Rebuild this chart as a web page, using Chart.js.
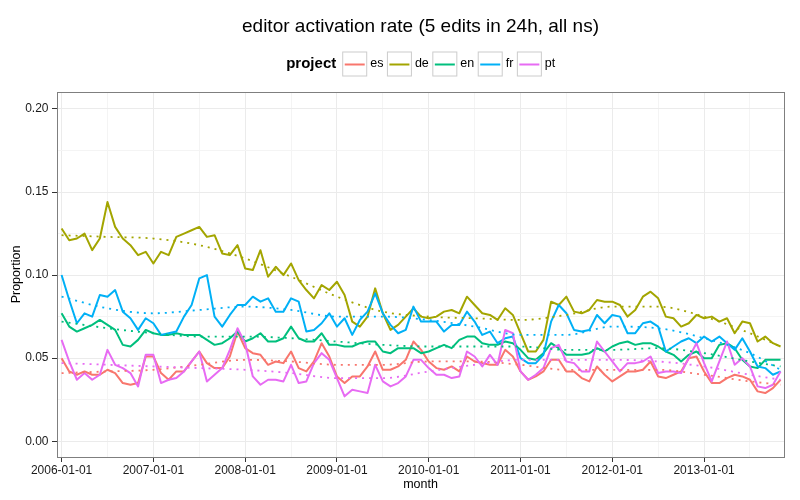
<!DOCTYPE html>
<html>
<head>
<meta charset="utf-8">
<title>editor activation rate</title>
<script src="https://cdn.jsdelivr.net/npm/chart.js@4.4.0/dist/chart.umd.min.js"></script>
<style>
  html, body { margin: 0; padding: 0; background: #fff; }
  #wrap { width: 800px; height: 500px; }
</style>
</head>
<body>
<div id="wrap"><canvas id="chart" width="800" height="500"></canvas></div>
<script>
(function(){
    'use strict';

    // categories
    var projects = ['es', 'de', 'en', 'fr', 'pt'];
    var colors = ['#F8766D', '#A3A500', '#00BF7D', '#00B0F6', '#E76BF3'];

    // x axis: months since 2006-01, ticks every 6 months, labels on the years
    var tickMonths = [0, 6, 12, 18, 24, 30, 36, 42, 48, 54, 60, 66, 72, 78, 84, 90];
    var yearLabels = ['2006-01-01', '2007-01-01', '2008-01-01', '2009-01-01',
                      '2010-01-01', '2011-01-01', '2012-01-01', '2013-01-01'];
    var yTicks = [0, 0.025, 0.05, 0.075, 0.1, 0.125, 0.15, 0.175, 0.2];

    // monthly proportion, 2006-01 .. 2013-11
    var es = [0.050,0.042,0.040,0.042,0.040,0.040,0.043,0.041,0.035,0.034,
              0.035,0.051,0.051,0.041,0.037,0.042,0.042,0.048,0.054,0.047,
              0.044,0.044,0.051,0.066,0.056,0.053,0.052,0.046,0.048,0.047,
              0.054,0.044,0.042,0.048,0.059,0.051,0.039,0.035,0.039,0.039,
              0.045,0.054,0.043,0.043,0.045,0.049,0.060,0.055,0.048,0.044,
              0.043,0.045,0.042,0.051,0.048,0.047,0.046,0.046,0.055,0.051,
              0.042,0.037,0.039,0.042,0.049,0.049,0.042,0.042,0.038,0.036,
              0.045,0.040,0.036,0.039,0.042,0.042,0.043,0.048,0.039,0.038,
              0.040,0.042,0.050,0.051,0.042,0.035,0.035,0.038,0.040,0.039,
              0.037,0.030,0.029,0.032,0.037];
    var de = [0.128,0.121,0.122,0.125,0.115,0.122,0.144,0.129,0.122,0.118,
              0.112,0.114,0.107,0.114,0.112,0.123,0.125,0.127,0.129,0.123,
              0.124,0.113,0.112,0.118,0.104,0.103,0.115,0.099,0.105,0.100,
              0.107,0.097,0.091,0.086,0.094,0.091,0.096,0.088,0.072,0.069,
              0.075,0.092,0.077,0.067,0.070,0.075,0.080,0.075,0.074,0.075,
              0.078,0.079,0.077,0.087,0.082,0.077,0.076,0.073,0.080,0.076,
              0.065,0.054,0.054,0.061,0.084,0.082,0.087,0.078,0.077,0.079,
              0.085,0.084,0.084,0.082,0.075,0.079,0.087,0.090,0.086,0.075,
              0.074,0.069,0.071,0.076,0.074,0.075,0.072,0.074,0.065,0.072,
              0.071,0.060,0.063,0.059,0.057];
    var en = [0.077,0.069,0.066,0.068,0.070,0.073,0.070,0.067,0.058,0.057,
              0.061,0.067,0.065,0.064,0.064,0.065,0.064,0.064,0.064,0.061,
              0.058,0.059,0.062,0.066,0.060,0.062,0.065,0.060,0.060,0.062,
              0.069,0.062,0.060,0.060,0.065,0.058,0.058,0.057,0.057,0.059,
              0.060,0.060,0.054,0.053,0.056,0.056,0.056,0.053,0.054,0.056,
              0.058,0.056,0.061,0.063,0.063,0.059,0.058,0.058,0.060,0.059,
              0.055,0.050,0.049,0.053,0.059,0.056,0.052,0.052,0.052,0.053,
              0.056,0.054,0.057,0.059,0.060,0.058,0.059,0.059,0.057,0.054,
              0.052,0.048,0.052,0.054,0.050,0.050,0.058,0.059,0.056,0.049,
              0.045,0.044,0.049,0.049,0.049];
    var fr = [0.100,0.085,0.071,0.077,0.075,0.088,0.087,0.091,0.078,0.074,
              0.067,0.074,0.071,0.064,0.065,0.066,0.075,0.082,0.098,0.100,
              0.075,0.069,0.076,0.082,0.082,0.087,0.084,0.086,0.078,0.078,
              0.086,0.084,0.066,0.067,0.071,0.077,0.069,0.074,0.064,0.073,
              0.078,0.089,0.077,0.070,0.065,0.067,0.081,0.072,0.072,0.072,
              0.066,0.070,0.070,0.078,0.072,0.064,0.066,0.059,0.062,0.063,
              0.050,0.047,0.047,0.052,0.072,0.082,0.077,0.067,0.066,0.067,
              0.076,0.071,0.076,0.075,0.065,0.065,0.071,0.072,0.069,0.054,
              0.057,0.060,0.062,0.059,0.063,0.060,0.063,0.059,0.055,0.062,
              0.054,0.045,0.044,0.040,0.042];
    var pt = [0.061,0.048,0.037,0.041,0.037,0.040,0.055,0.046,0.044,0.041,
              0.033,0.052,0.052,0.035,0.037,0.038,0.042,0.048,0.054,0.036,
              0.040,0.044,0.055,0.068,0.059,0.039,0.034,0.037,0.037,0.036,
              0.046,0.035,0.036,0.047,0.053,0.049,0.038,0.027,0.031,0.030,
              0.029,0.046,0.036,0.033,0.035,0.039,0.049,0.049,0.044,0.040,
              0.040,0.038,0.039,0.054,0.051,0.045,0.052,0.046,0.067,0.065,
              0.042,0.037,0.040,0.044,0.056,0.058,0.048,0.047,0.042,0.042,
              0.060,0.054,0.048,0.042,0.047,0.047,0.048,0.051,0.041,0.042,
              0.042,0.041,0.050,0.059,0.047,0.036,0.048,0.060,0.046,0.050,
              0.045,0.033,0.032,0.034,0.042];

    // smoothed trend (dotted), read at these months
    var trendMonths = [0, 6, 12, 18, 24, 30, 36, 42, 48, 54, 60, 66, 72, 78, 84, 90, 94];
    var esTrend = [0.041,0.042,0.043,0.046,0.049,0.048,0.046,0.046,0.048,0.048,0.046,0.043,0.043,0.043,0.040,0.036,0.034];
    var deTrend = [0.124,0.123,0.122,0.118,0.110,0.099,0.087,0.078,0.075,0.074,0.073,0.076,0.081,0.081,0.075,0.065,0.057];
    var enTrend = [0.072,0.068,0.065,0.063,0.063,0.062,0.060,0.058,0.057,0.057,0.057,0.055,0.055,0.056,0.053,0.048,0.045];
    var frTrend = [0.087,0.080,0.077,0.079,0.081,0.079,0.075,0.075,0.073,0.069,0.064,0.064,0.069,0.068,0.062,0.053,0.043];
    var ptTrend = [0.047,0.046,0.045,0.044,0.043,0.041,0.038,0.038,0.042,0.046,0.049,0.049,0.049,0.048,0.045,0.040,0.037];

    var series = [es, de, en, fr, pt];
    var trends = [esTrend, deTrend, enTrend, frTrend, ptTrend];

    var FONT = '"Liberation Sans", Arial, Helvetica, sans-serif';
    Chart.defaults.font.family = FONT;

    var datasets = [];
    projects.forEach(function(p, k){
        datasets.push({
            label: p,
            data: series[k].map(function(v, i){ return {x: i, y: v}; }),
            borderColor: colors[k],
            borderWidth: 2,
            borderJoinStyle: 'round',
            pointRadius: 0,
            tension: 0,
            order: 10 - k
        });
        datasets.push({
            label: p + ' trend',
            data: trends[k].map(function(v, j){ return {x: trendMonths[j], y: v}; }),
            borderColor: colors[k],
            borderWidth: 1.8,
            borderDash: [2, 5],
            pointRadius: 0,
            cubicInterpolationMode: 'monotone',
            order: 4 - k
        });
    });

    function isMajorY(v){ return Math.round(v * 1000) % 50 === 0; }

    // title, legend, axis titles and panel border
    var decor = {
        id: 'decor',
        afterDatasetsDraw: function(chart){
            var ctx = chart.ctx, a = chart.chartArea;
            var cx = (a.left + a.right) / 2;
            ctx.save();

            ctx.strokeStyle = '#7f7f7f';
            ctx.lineWidth = 1;
            ctx.strokeRect(a.left + 0.5, a.top + 0.5, a.right - a.left, a.bottom - a.top);

            ctx.fillStyle = '#000';
            ctx.textBaseline = 'middle';
            ctx.textAlign = 'center';
            ctx.font = '19px ' + FONT;
            ctx.fillText('editor activation rate (5 edits in 24h, all ns)', cx, 27);

            // legend
            ctx.font = 'bold 15px ' + FONT;
            var titleW = ctx.measureText('project').width;
            ctx.font = '12.5px ' + FONT;
            var total = titleW + 6;
            projects.forEach(function(p){ total += 28 + ctx.measureText(p).width + 3.5; });
            var x = cx + 2 - total / 2;
            var ly = 64;
            ctx.textAlign = 'left';
            ctx.font = 'bold 15px ' + FONT;
            ctx.fillText('project', x, ly);
            x += titleW + 6;
            ctx.font = '12.5px ' + FONT;
            projects.forEach(function(p, k){
                ctx.fillStyle = '#fff';
                ctx.fillRect(x, ly - 12.5, 25, 25);
                ctx.strokeStyle = '#cccccc';
                ctx.lineWidth = 1;
                ctx.strokeRect(x + 0.5, ly - 12, 24, 24);
                ctx.strokeStyle = colors[k];
                ctx.lineWidth = 2;
                ctx.beginPath();
                ctx.moveTo(x + 2.5, ly + 0.5);
                ctx.lineTo(x + 22.5, ly + 0.5);
                ctx.stroke();
                ctx.fillStyle = '#000';
                ctx.fillText(p, x + 28, ly);
                x += 28 + ctx.measureText(p).width + 3.5;
            });

            // axis titles
            ctx.textAlign = 'center';
            ctx.font = '12.5px ' + FONT;
            ctx.fillText('month', cx, 485);
            ctx.translate(17, (a.top + a.bottom) / 2);
            ctx.rotate(-Math.PI / 2);
            ctx.fillText('Proportion', 0, 0);
            ctx.restore();
        }
    };

    new Chart(document.getElementById('chart').getContext('2d'), {
        type: 'line',
        data: { datasets: datasets },
        plugins: [decor],
        options: {
            responsive: false,
            animation: false,
            devicePixelRatio: 1,
            layout: { padding: { top: 92, right: 16, left: 0, bottom: 0 } },
            plugins: {
                legend: { display: false },
                tooltip: { enabled: false },
                title: { display: false }
            },
            scales: {
                x: {
                    type: 'linear',
                    min: -0.6,
                    max: 94.45,
                    afterBuildTicks: function(s){
                        s.ticks = tickMonths.map(function(v){ return {value: v}; });
                    },
                    afterFit: function(s){ s.height = 43; },
                    border: { display: false },
                    grid: {
                        color: function(c){ return c.tick && c.tick.value % 12 === 0 ? '#ebebeb' : '#f4f4f4'; },
                        tickColor: function(c){ return c.tick && c.tick.value % 12 === 0 ? '#333333' : 'rgba(0,0,0,0)'; },
                        tickLength: 5
                    },
                    ticks: {
                        autoSkip: false,
                        maxRotation: 0,
                        minRotation: 0,
                        padding: 1,
                        color: '#1a1a1a',
                        font: { size: 12 },
                        callback: function(v){ return v % 12 === 0 ? yearLabels[v / 12] : ''; }
                    }
                },
                y: {
                    min: -0.0095,
                    max: 0.2102,
                    afterBuildTicks: function(s){
                        s.ticks = yTicks.map(function(v){ return {value: v}; });
                    },
                    afterFit: function(s){ s.width = 57; },
                    border: { display: false },
                    grid: {
                        color: function(c){ return c.tick && isMajorY(c.tick.value) ? '#ebebeb' : '#f4f4f4'; },
                        tickColor: function(c){ return c.tick && isMajorY(c.tick.value) ? '#333333' : 'rgba(0,0,0,0)'; },
                        tickLength: 5
                    },
                    ticks: {
                        padding: 3.5,
                        color: '#1a1a1a',
                        font: { size: 12 },
                        callback: function(v){ return isMajorY(v) ? v.toFixed(2) : ''; }
                    }
                }
            }
        }
    });

}());
</script>
</body>
</html>
